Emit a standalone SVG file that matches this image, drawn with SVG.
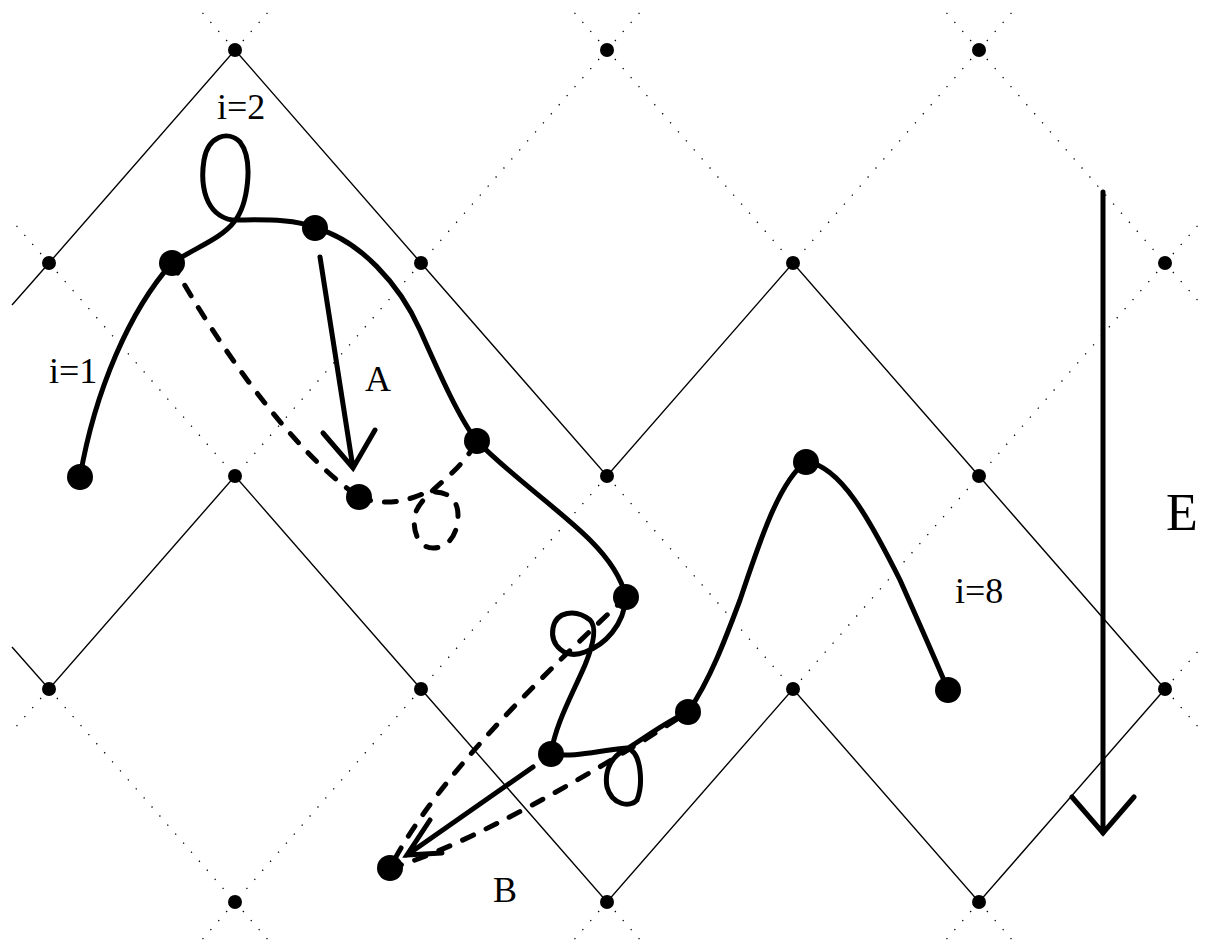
<svg xmlns="http://www.w3.org/2000/svg" width="1209" height="951" viewBox="0 0 1209 951">
<style>
.sol{stroke:#000;stroke-width:1.4;fill:none}
.dot{stroke:#000;stroke-width:1.3;fill:none;stroke-dasharray:1.3 10.7}
.thick{stroke:#000;stroke-width:5;fill:none;stroke-linecap:round;stroke-linejoin:round}
.dash{stroke:#000;stroke-width:5;fill:none;stroke-linecap:round;stroke-dasharray:12 14}
.arr{stroke:#000;stroke-width:5;fill:none;stroke-linecap:round;stroke-linejoin:miter}
.lbl{font-family:"Liberation Serif","Times New Roman",serif;font-size:36px;fill:#000}
</style>
<rect width="1209" height="951" fill="#fff"/>
<g id="lattice">
<g id="solid-lines">
<path class="sol" d="M12,305 L49,263 L235,50 L421,263 L607,476 L793,263 L979,476 L1165,689"/>
<path class="sol" d="M12,647 L49,689 L235,476 L421,689 L607,902 L793,689 L979,902 L1165,689"/>
</g>
<g id="dotted-lines">
<path class="dot" d="M235,50 L200,10 M235,50 L270,10"/>
<path class="dot" d="M607,50 L572,10 M607,50 L642,10 M607,50 L421,263 M607,50 L793,263"/>
<path class="dot" d="M979,50 L944,10 M979,50 L1014,10 M979,50 L793,263 M979,50 L1165,263"/>
<path class="dot" d="M49,263 L14,223 M49,263 L235,476 M421,263 L235,476"/>
<path class="dot" d="M1165,263 L1200,223 M1165,263 L1200,303 M1165,263 L979,476 L793,689"/>
<path class="dot" d="M607,476 L421,689 M607,476 L793,689"/>
<path class="dot" d="M49,689 L14,729 M49,689 L235,902 M421,689 L235,902"/>
<path class="dot" d="M1165,689 L1200,649 M1165,689 L1200,729"/>
<path class="dot" d="M235,902 L200,942 M235,902 L270,942 M607,902 L572,942 M607,902 L642,942 M979,902 L944,942 M979,902 L1014,942"/>
</g>
<g id="lattice-points" fill="#000">
<circle cx="235" cy="50" r="7"/><circle cx="607" cy="50" r="7"/><circle cx="979" cy="50" r="7"/>
<circle cx="49" cy="263" r="7"/><circle cx="421" cy="263" r="7"/><circle cx="793" cy="263" r="7"/><circle cx="1165" cy="263" r="7"/>
<circle cx="235" cy="476" r="7"/><circle cx="607" cy="476" r="7"/><circle cx="979" cy="476" r="7"/>
<circle cx="49" cy="689" r="7"/><circle cx="421" cy="689" r="7"/><circle cx="793" cy="689" r="7"/><circle cx="1165" cy="689" r="7"/>
<circle cx="235" cy="902" r="7"/><circle cx="607" cy="902" r="7"/><circle cx="979" cy="902" r="7"/>
</g>
</g>
<g id="connectors">
<g id="solid-path">
<path class="thick" d="M80,477 C95,390 130,310 172,263"/>
<path class="thick" d="M172,263 C195,248 222,238 234,222 C248,205 254,160 240,142 C228,130 208,136 204,160 C200,185 205,215 232,220 C260,220 295,218 315,228"/>
<path class="thick" d="M315,228 C360,240 400,285 420,330 C440,375 460,420 477,441"/>
<path class="thick" d="M477,441 C510,475 560,510 590,540 C610,560 622,580 626,597"/>
<path class="thick" d="M626,597 C624,625 605,645 585,652 C565,660 550,645 553,628 C556,612 575,608 590,620 C598,628 592,648 585,665 C572,695 555,725 551,754"/>
<path class="thick" d="M551,754 C575,758 600,750 627,748 C642,752 643,785 637,800 C630,808 612,805 607,787 C604,770 612,756 625,750 C645,738 665,722 688,712"/>
<path class="thick" d="M688,712 C710,680 725,640 740,600 C760,540 780,480 806,462"/>
<path class="thick" d="M806,462 C840,465 870,520 900,580 C920,625 940,670 948,690"/>
</g>
<g id="dashed-path">
<path class="dash" d="M172,263 C215,340 290,450 359,497"/>
<path class="dash" d="M359,497 C380,505 400,503 420,495 C440,487 458,495 458,515 C458,535 448,548 433,548 C418,548 412,530 415,515 C418,500 440,485 455,470 C465,460 472,450 477,441"/>
<path class="dash" d="M626,597 C560,660 440,770 390,868"/>
<path class="dash" d="M390,868 C460,850 600,770 688,712"/>
</g>
<g id="arrows">
<path class="arr" d="M320,257 L353,468 M323,433 L353,468 L375,430"/>
<path class="arr" d="M533,767 L407,855 M430,820 L407,855 L442,853"/>
<path class="arr" d="M1103,192 L1103,833 M1072,797 L1103,833 L1134,797"/>
</g>
</g>
<g id="nodes" fill="#000">
<circle id="p1" cx="80" cy="477" r="13"/>
<circle id="p2" cx="172" cy="263" r="13"/>
<circle id="p3" cx="315" cy="228" r="13"/>
<circle id="p4" cx="477" cy="441" r="13"/>
<circle id="p5" cx="626" cy="597" r="13"/>
<circle id="p6" cx="551" cy="754" r="13"/>
<circle id="p7" cx="688" cy="712" r="13"/>
<circle id="p8" cx="806" cy="462" r="13"/>
<circle id="p9" cx="948" cy="690" r="13"/>
<circle id="q1" cx="359" cy="497" r="13"/>
<circle id="q2" cx="390" cy="868" r="13"/>
</g>
<g id="labels">
<text class="lbl" x="217" y="119">i=2</text>
<text class="lbl" x="49" y="383">i=1</text>
<text class="lbl" x="955" y="603">i=8</text>
<text class="lbl" x="365" y="391">A</text>
<text class="lbl" x="493" y="902">B</text>
<text class="lbl" x="1166" y="530" style="font-size:52px">E</text>
</g>
</svg>
